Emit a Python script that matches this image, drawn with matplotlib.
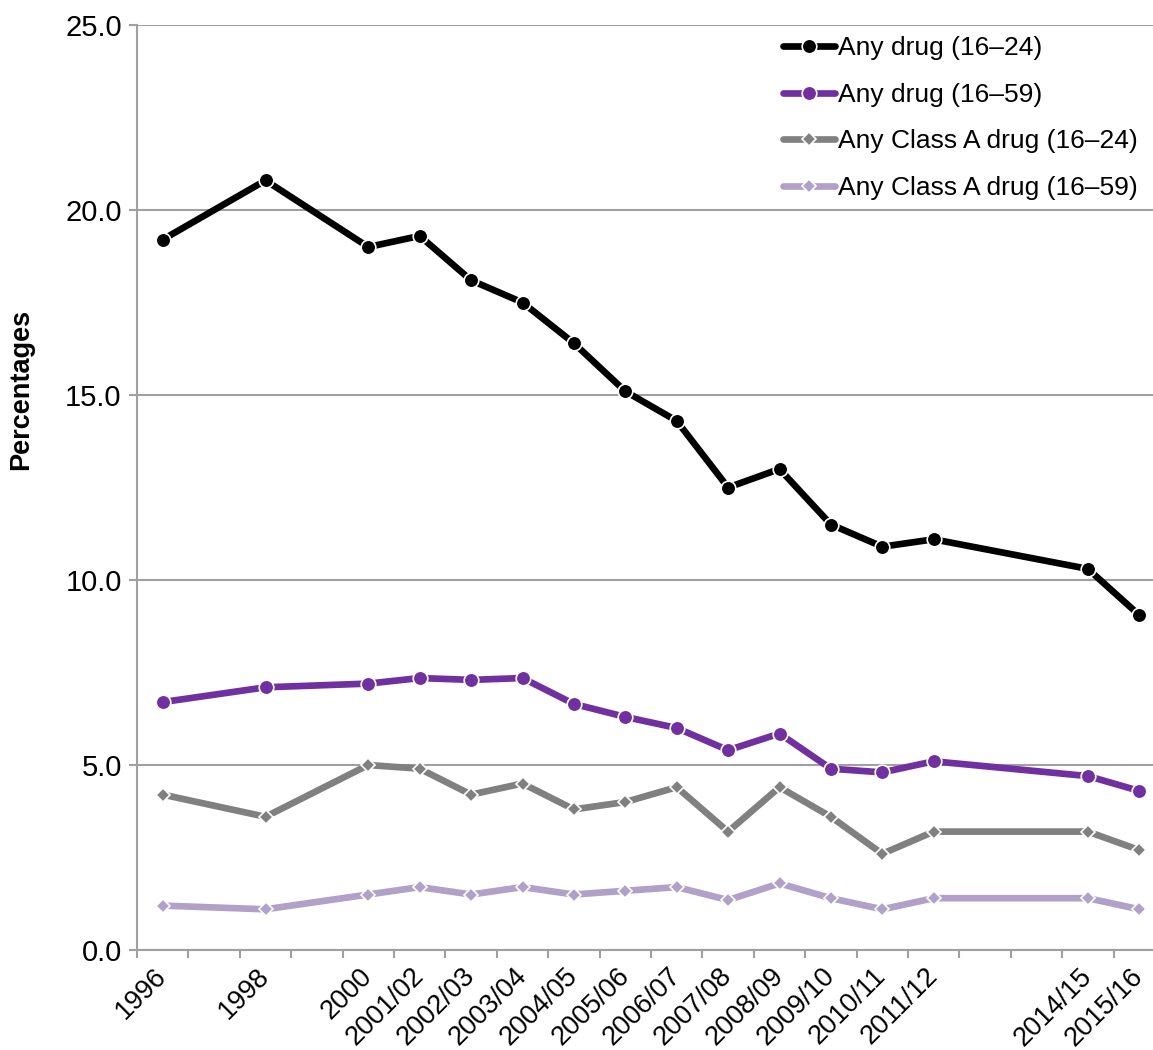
import numpy as np
import matplotlib.pyplot as plt
from matplotlib.ticker import FixedLocator, NullFormatter

plt.rcParams['font.family'] = ['Liberation Sans', 'DejaVu Sans']

# all survey years on the axis (some have no data)
categories = ['1996', '1997', '1998', '1999', '2000', '2001/02', '2002/03',
              '2003/04', '2004/05', '2005/06', '2006/07', '2007/08', '2008/09',
              '2009/10', '2010/11', '2011/12', '2012/13', '2013/14',
              '2014/15', '2015/16']
shown = ['1996', '1998', '2000', '2001/02', '2002/03', '2003/04', '2004/05',
         '2005/06', '2006/07', '2007/08', '2008/09', '2009/10', '2010/11',
         '2011/12', '2014/15', '2015/16']

any_16_24 = [19.2, 20.8, 19.0, 19.3, 18.1, 17.5, 16.4, 15.1, 14.3, 12.5,
             13.0, 11.5, 10.9, 11.1, 10.3, 9.05]
any_16_59 = [6.7, 7.1, 7.2, 7.35, 7.3, 7.35, 6.65, 6.3, 6.0, 5.4,
             5.85, 4.9, 4.8, 5.1, 4.7, 4.3]
classa_16_24 = [4.2, 3.6, 5.0, 4.9, 4.2, 4.5, 3.8, 4.0, 4.4, 3.2,
                4.4, 3.6, 2.6, 3.2, 3.2, 2.7]
classa_16_59 = [1.2, 1.1, 1.5, 1.7, 1.5, 1.7, 1.5, 1.6, 1.7, 1.35,
                1.8, 1.4, 1.1, 1.4, 1.4, 1.1]

labels = ['Any drug (16\u201324)', 'Any drug (16\u201359)',
          'Any Class A drug (16\u201324)', 'Any Class A drug (16\u201359)']
colors = ['#000000', '#7030A0', '#808080', '#B1A0C7']

x = [categories.index(c) for c in shown]

fig = plt.figure(figsize=(11.53, 10.5), dpi=100)
ax = fig.add_axes([137 / 1153, 100 / 1050, 1028 / 1153, 925 / 1050])

series = [any_16_24, any_16_59, classa_16_24, classa_16_59]
markers = ['o', 'o', 'D', 'D']
msizes = [10.5, 10.5, 7, 7]
for vals, lab, col, mk, ms in zip(series, labels, colors, markers, msizes):
    ax.plot(x, vals, color=col, lw=4.8, marker=mk, ms=ms,
            markeredgecolor='white', markeredgewidth=1.2, label=lab,
            solid_capstyle='round', zorder=3)

ax.set_xlim(-0.5, len(categories) - 0.5)
ax.set_ylim(0, 25)
ax.set_yticks(np.arange(0, 26, 5))
ax.set_yticklabels([f'{v:.1f}' for v in np.arange(0, 26, 5)])

# boundary ticks without labels, labels at the category centres
ax.xaxis.set_major_locator(FixedLocator(np.arange(-0.5, len(categories), 1)))
ax.xaxis.set_major_formatter(NullFormatter())
ax.xaxis.set_minor_locator(FixedLocator(np.arange(len(categories))))
ax.set_xticklabels([c if c in shown else '' for c in categories], minor=True,
                   rotation=45, ha='right', va='center', rotation_mode='anchor',
                   fontsize=19.5)
ax.tick_params(axis='x', which='minor', length=0, pad=16)
ax.tick_params(axis='x', which='major', length=6, width=1.5, color='#A0A0A0')
ax.tick_params(axis='y', length=6, width=1.5, color='#A0A0A0', labelsize=21, pad=5)

ax.grid(axis='y', color='#A0A0A0', lw=1.5)
ax.set_axisbelow(True)
for s in ['top', 'right']:
    ax.spines[s].set_visible(False)
for s in ['left', 'bottom']:
    ax.spines[s].set_color('#A0A0A0')
    ax.spines[s].set_linewidth(1.5)

ax.set_ylabel('Percentages', fontsize=19.5, fontweight='bold')
ax.yaxis.set_label_coords(-0.1, 0.606)

leg = ax.legend(loc='upper left', bbox_to_anchor=(635 / 1028, 0.999),
                frameon=False, fontsize=19, handlelength=2.0,
                handletextpad=0.1, labelspacing=0.85, borderaxespad=0)

fig.savefig('out.png', dpi=100)
